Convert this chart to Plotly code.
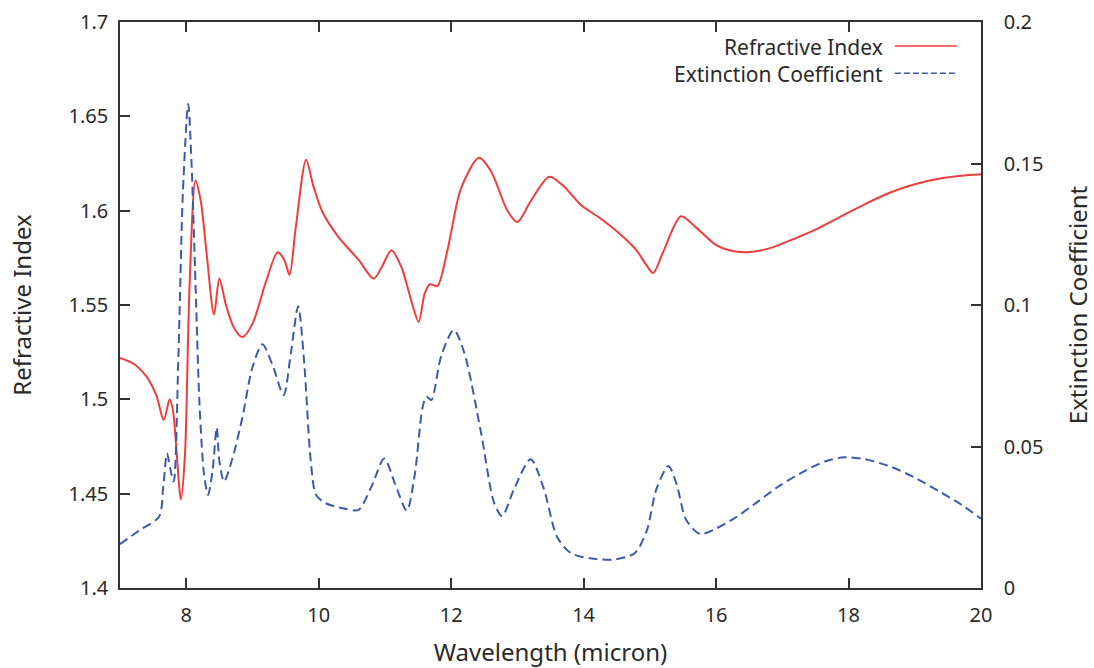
import plotly.graph_objects as go

# Refractive index n(lambda)
wl_n = [7.00, 7.20, 7.40, 7.55, 7.66, 7.75, 7.80, 7.92, 7.98, 8.05, 8.14, 8.22, 8.30, 8.42, 8.50,
        8.60, 8.72, 8.85, 9.00, 9.20, 9.38, 9.48, 9.56, 9.65, 9.81, 9.92, 10.06, 10.30, 10.60,
        10.83, 10.95, 11.10, 11.25, 11.40, 11.51, 11.60, 11.68, 11.79, 11.95, 12.15, 12.42,
        12.60, 12.85, 13.00, 13.20, 13.48, 13.70, 13.96, 14.25, 14.57, 14.80, 14.95, 15.05,
        15.20, 15.47, 15.70, 15.99, 16.20, 16.47, 16.80, 17.10, 17.50, 17.86, 18.25, 18.62,
        19.00, 19.38, 19.70, 20.00]
n_vals = [1.522, 1.519, 1.512, 1.502, 1.489, 1.500, 1.494, 1.447, 1.470, 1.560, 1.616, 1.605,
          1.580, 1.545, 1.564, 1.550, 1.538, 1.533, 1.540, 1.562, 1.578, 1.574, 1.566, 1.590,
          1.627, 1.613, 1.599, 1.586, 1.574, 1.564, 1.570, 1.579, 1.570, 1.552, 1.541, 1.556,
          1.561, 1.560, 1.580, 1.612, 1.628, 1.621, 1.600, 1.594, 1.605, 1.618, 1.613, 1.603,
          1.596, 1.587, 1.579, 1.571, 1.567, 1.578, 1.597, 1.591, 1.582, 1.579, 1.578, 1.580,
          1.584, 1.590, 1.5965, 1.6035, 1.6095, 1.614, 1.617, 1.6185, 1.6193]

# Extinction coefficient k(lambda)
wl_k = [7.00, 7.30, 7.59, 7.65, 7.71, 7.76, 7.81, 7.88, 7.95, 8.03, 8.08, 8.15, 8.20, 8.27,
        8.33, 8.40, 8.46, 8.50, 8.57, 8.70, 8.85, 9.00, 9.15, 9.30, 9.47, 9.58, 9.69, 9.78,
        9.88, 9.96, 10.10, 10.40, 10.60, 10.80, 10.99, 11.15, 11.33, 11.45, 11.57, 11.63,
        11.70, 11.85, 12.04, 12.20, 12.45, 12.65, 12.77, 12.95, 13.20, 13.40, 13.60, 13.81,
        14.10, 14.47, 14.77, 14.95, 15.10, 15.28, 15.40, 15.55, 15.76, 16.00, 16.30, 16.60,
        16.95, 17.35, 17.65, 17.94, 18.25, 18.62, 19.00, 19.38, 19.70, 20.00]
k_vals = [0.0155, 0.0205, 0.0252, 0.035, 0.0476, 0.042, 0.0376, 0.080, 0.140, 0.171, 0.150,
          0.100, 0.065, 0.040, 0.0329, 0.042, 0.0567, 0.045, 0.0376, 0.046, 0.0605, 0.078,
          0.0861, 0.079, 0.0682, 0.083, 0.0996, 0.080, 0.045, 0.0329, 0.030, 0.028, 0.0276,
          0.036, 0.0458, 0.037, 0.0273, 0.040, 0.064, 0.0676, 0.0664, 0.082, 0.0912, 0.083,
          0.055, 0.030, 0.0254, 0.035, 0.0455, 0.035, 0.018, 0.0123, 0.0105, 0.0101, 0.0123,
          0.020, 0.035, 0.0431, 0.037, 0.024, 0.0191, 0.0210, 0.0250, 0.0300, 0.0360, 0.0415,
          0.0448, 0.0462, 0.0455, 0.0430, 0.0390, 0.0340, 0.0295, 0.0245]

x_ticks = [8, 10, 12, 14, 16, 18, 20]
x_tick_labels = ["8", "10", "12", "14", "16", "18", "20"]
y1_ticks = [1.4, 1.45, 1.5, 1.55, 1.6, 1.65, 1.7]
y1_tick_labels = ["1.4", "1.45", "1.5", "1.55", "1.6", "1.65", "1.7"]
y2_ticks = [0, 0.05, 0.1, 0.15, 0.2]
y2_tick_labels = ["0", "0.05", "0.1", "0.15", "0.2"]

RED = "#f03c3c"
BLUE = "#3c5aaa"
AX = "#333333"
TXT = "#2a2a2a"
FONT = "Noto Sans"
FS = 20

fig = go.Figure()
fig.add_trace(go.Scatter(x=wl_n, y=n_vals, mode="lines", name="Refractive Index",
                         line=dict(color=RED, width=2, shape="spline", smoothing=0.8),
                         yaxis="y", showlegend=False))
fig.add_trace(go.Scatter(x=wl_k, y=k_vals, mode="lines", name="Extinction Coefficient",
                         line=dict(color=BLUE, width=2, dash="9px,5px", shape="spline", smoothing=0.8),
                         yaxis="y2", showlegend=False))

fig.update_layout(
    width=1094, height=668,
    margin=dict(l=120, r=113, t=22, b=80, autoexpand=False),
    paper_bgcolor="white", plot_bgcolor="white",
    font=dict(family=FONT, size=FS, color=TXT),
    xaxis=dict(range=[7, 20], tickvals=x_ticks, ticktext=x_tick_labels,
               ticks="inside", ticklen=10, tickcolor=AX, tickwidth=1.5,
               showline=True, linecolor=AX, linewidth=1.5, mirror="ticks",
               showgrid=False, zeroline=False, ticklabelstandoff=8, automargin=False,
               title=dict(text="Wavelength (micron)", standoff=20)),
    yaxis=dict(range=[1.4, 1.7], tickvals=y1_ticks, ticktext=y1_tick_labels,
               ticks="inside", ticklen=10, tickcolor=AX, tickwidth=1.5,
               showline=True, linecolor=AX, linewidth=1.5, mirror=True,
               showgrid=False, zeroline=False, ticklabelstandoff=6, automargin=False,
               title=dict(text="Refractive Index", standoff=30)),
    yaxis2=dict(range=[0, 0.2], tickvals=y2_ticks, ticktext=y2_tick_labels,
                overlaying="y", side="right",
                ticks="inside", ticklen=10, tickcolor=AX, tickwidth=1.5,
                showline=True, linecolor=AX, linewidth=1.5, automargin=False,
                showgrid=False, zeroline=False, ticklabelstandoff=17,
                title=dict(text="Extinction Coefficient", standoff=33)),
)

# gnuplot-style key: right-aligned text with sample line to its right
key_entries = [("Refractive Index", RED, "solid", 0.9558, 0.9576),
               ("Extinction Coefficient", BLUE, "6px,3px", 0.908, 0.9094)]
for label, color, dash, yt, yl in key_entries:
    fig.add_annotation(x=0.8885, y=yt, xref="paper", yref="paper", text=label,
                       showarrow=False, xanchor="right", yanchor="middle",
                       font=dict(family=FONT, size=21, color=TXT))
    fig.add_shape(type="line", xref="paper", yref="paper", x0=0.900, x1=0.972,
                  y0=yl, y1=yl, line=dict(color=color, width=1.5, dash=dash))

fig.write_html("out.html")
